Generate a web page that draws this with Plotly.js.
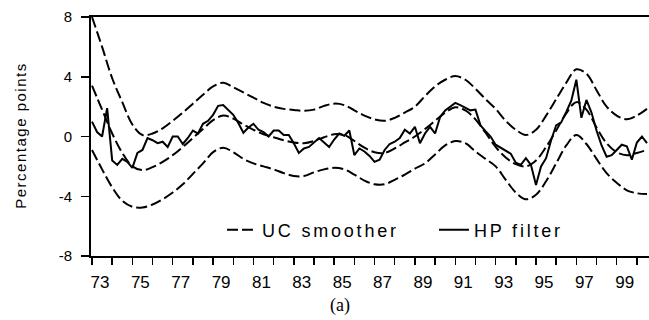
<!DOCTYPE html>
<html>
<head>
<meta charset="utf-8">
<script src="https://cdn.plot.ly/plotly-3.0.1.min.js"></script>
<style>
  html, body { margin: 0; padding: 0; background: #fff; }
  #chart { width: 649px; height: 320px; }
  .legendtext { letter-spacing: 2.8px; }
  g.annotation[data-index="0"] text { letter-spacing: 1.5px; }
</style>
</head>
<body>
<div id="chart"></div>
<script>
// Quarterly sample starts 1973Q1
const startYear = 1973;

// HP filter output gap (quarterly, 1973Q1 ...)
const hpFilter = [
  1.0, 0.3, 0.0, 1.9, -1.6, -1.9, -1.5, -1.7, -2.1, -1.1,
  -0.9, -0.1, -0.25, -0.45, -0.35, -0.7, 0.0, 0.0, -0.5, -0.1,
  0.4, 0.2, 0.85, 1.05, 1.45, 2.05, 2.1, 1.8, 1.45, 0.9,
  0.25, 0.6, 0.85, 0.45, 0.3, 0.0, 0.4, 0.4, 0.1, 0.1,
  -0.45, -1.1, -0.8, -0.7, -0.4, -0.1, -0.4, -0.7, -0.2, 0.2,
  0.05, 0.4, -1.25, -0.8, -1.0, -1.3, -1.7, -1.55, -0.9, -0.5,
  -0.35, -0.1, 0.45, 0.2, 0.65, -0.45, 0.2, 0.65, 0.2, 1.3,
  1.75, 2.0, 2.25, 2.1, 1.9, 1.75, 1.8, 0.75, 0.35, 0.0,
  -0.55, -0.75, -0.9, -1.15, -1.75, -1.9, -1.45, -1.9, -3.25, -2.0,
  -1.45, -0.25, 0.75, 0.95, 1.65, 2.4, 3.8, 1.25, 2.45, 1.6,
  0.4, -0.6, -1.35, -1.25, -0.9, -0.55, -0.65, -1.55, -0.4, 0.0,
  -0.45
];

// UC smoother and its bands (half-yearly readings, 1973.0 ...)
const ucSmoother = [
  3.4, 1.8, 0.2, -1.1, -2.0, -2.25, -2.05, -1.7, -1.25, -0.7, -0.1, 0.5, 1.1, 1.4,
  1.2, 0.8, 0.45, 0.15, -0.05, -0.25, -0.4, -0.45, -0.3, -0.05, 0.15, 0.1, -0.3, -0.75,
  -1.05, -1.1, -0.8, -0.4, 0.0, 0.5,
  1.05, 1.6, 1.95, 1.75, 1.15, 0.25, -0.7, -1.4, -1.85, -2.0, -1.6, -0.7, 0.4, 1.55,
  2.3, 1.8, 0.6, -0.45, -1.05, -1.25, -1.1, -0.9
];
const ucUpper = [
  8.0, 6.0, 3.9, 2.3, 0.8, 0.1, 0.2, 0.55, 1.05, 1.6, 2.2, 2.8, 3.35, 3.6,
  3.3, 2.95, 2.6, 2.25, 2.0, 1.85, 1.78, 1.72, 1.8, 2.05, 2.2, 2.1, 1.75, 1.4,
  1.15, 1.05, 1.25, 1.6, 2.0, 2.7,
  3.35, 3.8, 4.05, 3.8, 3.2, 2.5, 1.85, 1.05, 0.45, 0.1, 0.45, 1.4, 2.5, 3.6,
  4.5, 4.2, 3.1, 2.0, 1.4, 1.15, 1.4, 1.85
];
const ucLower = [
  -0.9, -2.2, -3.4, -4.3, -4.7, -4.75, -4.55, -4.2, -3.75, -3.2, -2.5, -1.8, -1.05, -0.75,
  -1.05, -1.5, -1.8, -2.0, -2.2, -2.45, -2.65, -2.65, -2.4, -2.2, -2.1, -2.2, -2.55, -2.95,
  -3.2, -3.2, -2.9, -2.55, -2.15, -1.8,
  -1.2, -0.6, -0.3, -0.45, -1.0, -1.5, -2.0, -2.9, -3.75, -4.2, -3.9, -3.0, -1.8, -0.6,
  0.1, -0.5, -1.5, -2.45, -3.1, -3.6, -3.8, -3.85
];

// Axis ticks
const xTickYears = [1973,1974,1975,1976,1977,1978,1979,1980,1981,1982,1983,1984,1985,1986,
                    1987,1988,1989,1990,1991,1992,1993,1994,1995,1996,1997,1998,1999,2000];
const xTickText = ['73','','75','','77','','79','','81','','83','','85','','87','','89','',
                   '91','','93','','95','','97','','99',''];
const yTickVals = [-8, -4, 0, 4, 8];
const yTickText = ['-8', '-4', '0', '4', '8'];

const seriesNames = ['UC smoother', 'HP filter'];
const yTitle = 'Percentage points';
const caption = '(a)';

// x positions (dates) for the two sampling frequencies
const hpX = hpFilter.map((_, i) => startYear + i / 4);
const ucX = ucSmoother.map((_, i) => startYear + i / 2);

const dashStyle = '11px,4px';
const lineCol = '#000';

const traces = [
  { x: ucX, y: ucUpper, type: 'scatter', mode: 'lines', showlegend: false, hoverinfo: 'skip',
    line: { color: lineCol, width: 2, dash: dashStyle, shape: 'spline', smoothing: 1 } },
  { x: ucX, y: ucLower, type: 'scatter', mode: 'lines', showlegend: false, hoverinfo: 'skip',
    line: { color: lineCol, width: 2, dash: dashStyle, shape: 'spline', smoothing: 1 } },
  { x: ucX, y: ucSmoother, type: 'scatter', mode: 'lines', name: seriesNames[0],
    line: { color: lineCol, width: 2, dash: dashStyle, shape: 'spline', smoothing: 1 } },
  { x: hpX, y: hpFilter, type: 'scatter', mode: 'lines', name: seriesNames[1],
    line: { color: lineCol, width: 2 } }
];

const L = 91, R = 0, T = 17, B = 64, W = 649, H = 320;
const pw = W - L - R, ph = H - T - B;

const layout = {
  width: W, height: H,
  margin: { l: L, r: R, t: T, b: B, pad: 0 },
  paper_bgcolor: '#fff', plot_bgcolor: '#fff',
  font: { family: 'Liberation Sans, Arial, sans-serif', color: '#000' },
  showlegend: true,
  legend: {
    orientation: 'h', x: (222 - L) / pw, y: (256 - 230) / ph,
    xanchor: 'left', yanchor: 'middle',
    bgcolor: 'rgba(0,0,0,0)', borderwidth: 0,
    entrywidth: 167, entrywidthmode: 'pixels',
    font: { size: 18, family: 'Liberation Sans, Arial, sans-serif', color: '#000' },
    traceorder: 'normal', itemclick: false
  },
  xaxis: {
    range: [1972.95, 2000.6],
    showgrid: false, zeroline: false,
    showline: true, linewidth: 2, linecolor: '#000', mirror: true,
    ticks: 'outside', ticklen: 7, tickwidth: 1.5, tickcolor: '#000',
    tickmode: 'array', tickvals: xTickYears, ticktext: xTickText,
    ticklabelshift: 8, ticklabelstandoff: 3,
    tickfont: { size: 17, color: '#000' }
  },
  yaxis: {
    range: [-8, 8],
    showgrid: false, zeroline: false,
    showline: true, linewidth: 2, linecolor: '#000',
    ticks: 'outside', ticklen: 8, tickwidth: 1.5, tickcolor: '#000',
    tickmode: 'array', tickvals: yTickVals, ticktext: yTickText,
    ticklabelstandoff: 6,
    tickfont: { size: 15, color: '#000' }
  },
  annotations: [
    { text: yTitle, xref: 'paper', yref: 'paper', x: (20 - L) / pw, y: (256 - 136) / ph,
      xanchor: 'center', yanchor: 'middle', textangle: -90, showarrow: false,
      font: { size: 15, family: 'Liberation Sans, Arial, sans-serif', color: '#000' } },
    { text: caption, xref: 'paper', yref: 'paper', x: (340 - L) / pw, y: (256 - 305) / ph,
      xanchor: 'center', yanchor: 'middle', showarrow: false,
      font: { size: 18, family: 'Liberation Serif, Times New Roman, serif', color: '#000' } }
  ]
};

Plotly.newPlot('chart', traces, layout, { staticPlot: true, displayModeBar: false });
</script>
</body>
</html>
